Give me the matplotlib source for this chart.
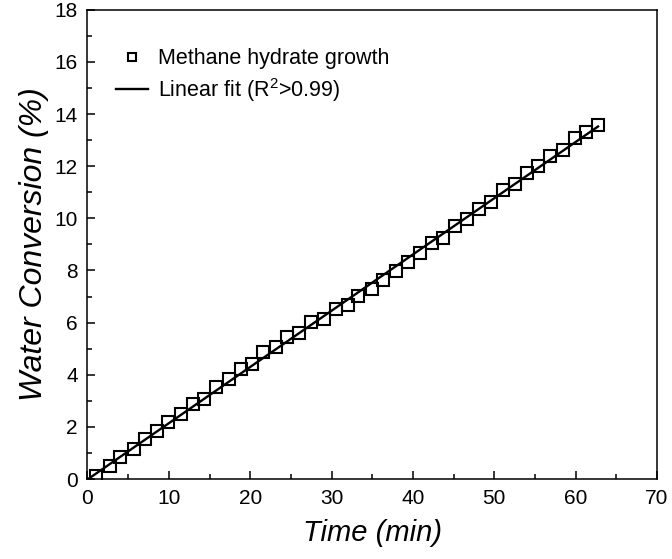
import numpy as np
import matplotlib
matplotlib.use("Agg")
import matplotlib.pyplot as plt
from matplotlib.ticker import MultipleLocator

plt.rcParams['font.family'] = ['Liberation Sans', 'DejaVu Sans']
plt.rcParams['mathtext.fontset'] = 'custom'
plt.rcParams['mathtext.rm'] = 'Liberation Sans'

# hydrate growth run: time (min) vs water conversion (%)
time_min = [1.04, 2.77, 4.00, 5.68, 7.11, 8.52, 9.94, 11.49, 12.93, 14.36,
            15.79, 17.43, 18.87, 20.26, 21.61, 23.13, 24.49, 26.00, 27.48,
            29.11, 30.55, 31.98, 33.29, 34.94, 36.36, 37.89, 39.36, 40.87,
            42.31, 43.74, 45.17, 46.65, 48.15, 49.60, 51.01, 52.51, 54.02,
            55.41, 56.89, 58.39, 59.88, 61.25, 62.75]
conversion = [0.12, 0.50, 0.83, 1.16, 1.52, 1.85, 2.19, 2.51, 2.86, 3.08,
              3.54, 3.82, 4.21, 4.41, 4.89, 5.05, 5.46, 5.59, 6.04, 6.13,
              6.51, 6.68, 7.02, 7.28, 7.64, 7.96, 8.34, 8.66, 9.05, 9.24,
              9.69, 9.98, 10.37, 10.62, 11.08, 11.30, 11.74, 11.99, 12.39,
              12.63, 13.07, 13.32, 13.58]

t = np.array(time_min)
w = np.array(conversion)
slope, icpt = np.polyfit(t, w, 1)
t_fit = np.linspace(0, t.max(), 50)

fig = plt.figure(figsize=(6.72, 5.59), dpi=100)
ax = fig.add_axes([0.1302, 0.1431, 0.8475, 0.8395])

ax.plot(t, w, 's', ms=8.5, mfc='none', mec='black', mew=1.5,
        label='Methane hydrate growth', zorder=3)
ax.plot(t_fit, slope * t_fit + icpt, '-', color='black', lw=1.7,
        label='Linear fit (R$^2$>0.99)', zorder=2)

ax.set_xlim(0, 70)
ax.set_ylim(0, 18)
ax.xaxis.set_major_locator(MultipleLocator(10))
ax.xaxis.set_minor_locator(MultipleLocator(5))
ax.yaxis.set_major_locator(MultipleLocator(2))
ax.yaxis.set_minor_locator(MultipleLocator(1))
ax.tick_params(which='both', direction='in', width=1.1, labelsize=15,
               top=False, right=False)
ax.tick_params(which='major', length=6, pad=7)
ax.tick_params(which='minor', length=3.5)
for sp in ax.spines.values():
    sp.set_linewidth(1.1)

ax.set_xlabel('Time (min)', fontsize=21, style='italic', labelpad=8)
ax.set_ylabel('Water Conversion (%)', fontsize=23, style='italic', labelpad=4)

ax.legend(loc='upper left', bbox_to_anchor=(0.05, 0.918), frameon=False,
          fontsize=15.5, borderpad=0, borderaxespad=0, handlelength=1.5,
          handletextpad=0.45, labelspacing=0.3, markerscale=0.75)

fig.savefig('out.png', dpi=100)
